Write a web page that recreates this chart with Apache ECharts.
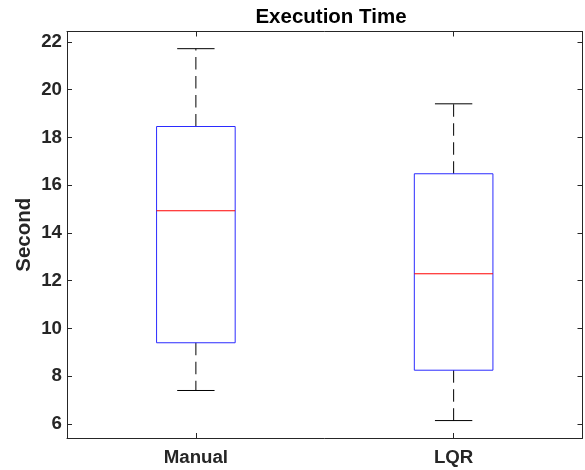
<!DOCTYPE html>
<html>
<head>
<meta charset="utf-8">
<script src="https://cdn.jsdelivr.net/npm/echarts@6/dist/echarts.min.js"></script>
<style>
html,body{margin:0;padding:0;background:#fff;}
#chart{width:585px;height:470px;}
</style>
</head>
<body>
<div id="chart"></div>
<script>
var categories = ['Manual', 'LQR'];
var lowerWhisker = [7.40, 6.14];
var q1Values = [9.40, 8.25];
var medianValues = [14.93, 12.29];
var q3Values = [18.46, 16.48];
var upperWhisker = [21.72, 19.41];
var yTickValues = [6, 8, 10, 12, 14, 16, 18, 20, 22];

var FONT = "'Liberation Sans', Arial, Helvetica, sans-serif";
var AX = '#262626';

var boxData = categories.map(function (c, i) {
  return [i, lowerWhisker[i], q1Values[i], medianValues[i], q3Values[i], upperWhisker[i]];
});

var chart = echarts.init(document.getElementById('chart'), null, {renderer: 'canvas'});

function renderBox(params, api) {
  var x = api.value(0);
  var lw = api.coord([x, api.value(1)]);
  var q1 = api.coord([x, api.value(2)]);
  var md = api.coord([x, api.value(3)]);
  var q3 = api.coord([x, api.value(4)]);
  var uw = api.coord([x, api.value(5)]);
  var band = api.size([1, 0])[0];
  var bw = band * 0.305, cw = band * 0.145;
  var cx = md[0];
  var whiskerStyle = {stroke: '#000', lineWidth: 1, lineDash: [12.5, 6.5], fill: null};
  var solid = {stroke: '#000', lineWidth: 1, fill: null};
  return {
    type: 'group',
    children: [
      {type: 'line', shape: {x1: cx, y1: q3[1], x2: cx, y2: uw[1]}, style: whiskerStyle},
      {type: 'line', shape: {x1: cx, y1: q1[1], x2: cx, y2: lw[1]}, style: whiskerStyle},
      {type: 'line', shape: {x1: cx - cw / 2, y1: uw[1], x2: cx + cw / 2, y2: uw[1]}, style: solid},
      {type: 'line', shape: {x1: cx - cw / 2, y1: lw[1], x2: cx + cw / 2, y2: lw[1]}, style: solid},
      {type: 'rect', shape: {x: cx - bw / 2, y: q3[1], width: bw, height: q1[1] - q3[1]},
        style: {stroke: '#2b2bff', lineWidth: 1, fill: null}},
      {type: 'line', shape: {x1: cx - bw / 2, y1: md[1], x2: cx + bw / 2, y2: md[1]},
        style: {stroke: '#ff0000', lineWidth: 1, fill: null}}
    ]
  };
}

var option = {
  animation: false,
  backgroundColor: '#fff',
  title: {
    text: 'Execution Time',
    left: 326,
    textAlign: 'center',
    top: 2,
    textStyle: {fontFamily: FONT, fontWeight: 'bold', fontSize: 20.5, color: '#000'}
  },
  grid: {left: 67, right: 2.5, top: 31.5, bottom: 32, containLabel: false},
  xAxis: [{
    type: 'category',
    data: categories,
    boundaryGap: true,
    position: 'bottom',
    axisLine: {show: true, lineStyle: {color: AX, width: 1}},
    axisTick: {show: true, inside: true, alignWithLabel: true, length: 5, lineStyle: {color: AX}},
    axisLabel: {margin: 10, fontFamily: FONT, fontWeight: 'bold', fontSize: 18.7, color: AX},
    splitLine: {show: false}
  }, {
    type: 'category',
    data: categories,
    boundaryGap: true,
    position: 'top',
    axisLine: {show: true, onZero: false, lineStyle: {color: AX, width: 1}},
    axisTick: {show: true, inside: true, alignWithLabel: true, length: 5, lineStyle: {color: AX}},
    axisLabel: {show: false},
    splitLine: {show: false}
  }],
  yAxis: [{
    type: 'value',
    min: 5.41,
    max: 22.44,
    position: 'left',
    name: 'Second',
    nameLocation: 'middle',
    nameRotate: 90,
    nameGap: 32,
    nameMoveOverlap: false,
    nameTextStyle: {fontFamily: FONT, fontWeight: 'bold', fontSize: 20.5, color: AX},
    axisLine: {show: true, onZero: false, lineStyle: {color: AX, width: 1}},
    axisTick: {show: true, inside: true, length: 5, lineStyle: {color: AX}, customValues: yTickValues},
    axisLabel: {margin: 5, fontFamily: FONT, fontWeight: 'bold', fontSize: 18.7, color: AX, customValues: yTickValues},
    splitLine: {show: false}
  }, {
    type: 'value',
    min: 5.41,
    max: 22.44,
    position: 'right',
    axisLine: {show: true, onZero: false, lineStyle: {color: AX, width: 1}},
    axisTick: {show: true, inside: true, length: 5, lineStyle: {color: AX}, customValues: yTickValues},
    axisLabel: {show: false, customValues: yTickValues},
    splitLine: {show: false}
  }],
  series: [{
    type: 'custom',
    xAxisIndex: 0,
    yAxisIndex: 0,
    renderItem: renderBox,
    encode: {x: 0, y: [1, 2, 3, 4, 5]},
    data: boxData
  }]
};
chart.setOption(option);
</script>
</body>
</html>
